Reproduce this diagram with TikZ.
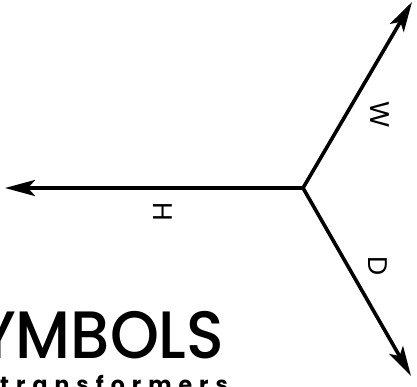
\documentclass[tikz,border=0pt]{standalone}
\usepackage{fontspec}
\usetikzlibrary{arrows.meta}
\newfontfamily\geofont{Poppins Medium}
\newfontfamily\labelfont{Poppins}
\newfontfamily\spacedfont[LetterSpace=32]{Poppins}

\begin{document}
\begin{tikzpicture}[x=1pt, y=-1pt, >={Stealth[length=30pt,width=16pt,inset=7pt]}]
\useasboundingbox (0,0) rectangle (417,386);
\coordinate (O) at (303,188);
\coordinate (W) at (412,2);
\coordinate (H) at (5,188);
\coordinate (D) at (411,376);
\foreach \p in {W,H,D}{
    \draw[->, line width=3.6pt] (O) -- (\p);
}
\node[rotate=-90] (wlab) at (380,115) {\labelfont\fontsize{27}{27}\selectfont W};
\node[rotate=-90] (hlab) at (163,212) {\labelfont\fontsize{27}{27}\selectfont H};
\node[rotate=-90] (dlab) at (378,266) {\labelfont\fontsize{27}{27}\selectfont D};
\begin{scope}
\clip (0,0) rectangle (417,386);
\node[anchor=base west, inner sep=0, xscale=0.93] (title) at (-22,358) {\geofont\fontsize{67}{67}\selectfont YMBOLS};
\node[anchor=base west, inner sep=0] (sub) at (0,392) {\spacedfont\bfseries\fontsize{22}{22}\selectfont transformers};
\end{scope}
\end{tikzpicture}
\end{document}
